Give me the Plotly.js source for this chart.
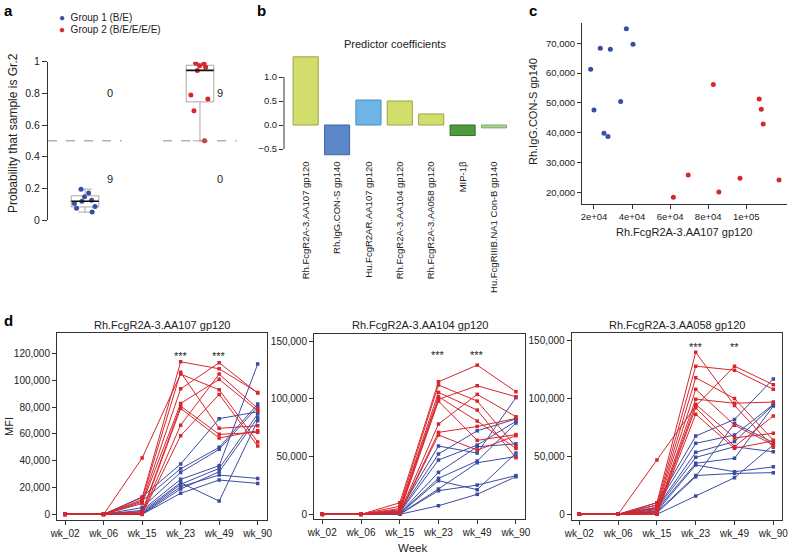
<!DOCTYPE html>
<html><head><meta charset="utf-8">
<script src="https://cdn.plot.ly/plotly-3.0.1.min.js"></script>
<style>html,body{margin:0;padding:0;background:#fff}#chart{width:788px;height:556px}</style>
</head><body><div id="chart"></div>
<script>
const W=788, H=556;
const px=x=>x/W, py=y=>1-y/H;
const FONT='Arial, "Liberation Sans", sans-serif';
const INK='#222';
const BLUE='#3b4ca3', RED='#d8262d';

// ---------- a: probability of Gr.2 ----------
const groupNames=['Group 1 (B/E)','Group 2 (B/E/E/E/E)'];
const probG1=[0.195,0.17,0.147,0.125,0.118,0.105,0.085,0.075,0.05];
const probG2=[0.99,0.985,0.975,0.965,0.945,0.79,0.765,0.69,0.5];
const countsG1=['0','9'];   // above / below 0.5
const countsG2=['9','0'];

// ---------- b: predictor coefficients ----------
const coefNames=['Rh.FcgR2A-3.AA107 gp120','Rh.IgG.CON-S gp140','Hu.FcgR2AR.AA107 gp120',
  'Rh.FcgR2A-3.AA104 gp120','Rh.FcgR2A-3.AA058 gp120','MIP-1β','Hu.FcgRIIIB.NA1 Con-B gp140'];
const coefValues=[1.42,-0.62,0.52,0.50,0.23,-0.22,-0.06];
const coefColors=['#d2dd6c','#5b87c9','#6cb5e6','#d2dd6c','#d2dd6c','#4f9a3f','#a9d38e'];
const coefEdges=['#9aa640','#3d65a6','#4a8fc0','#9aa640','#9aa640','#356f2a','#7fab66'];

// ---------- c: scatter ----------
const g1AA107=[18250,20000,23300,28600,25250,27350,34000,37000,40500];
const g1CONS=[61300,47600,68300,68000,39800,38700,50500,74900,69700];
const g2AA107=[61700,69500,82700,85600,96700,106800,107900,108900,117200];
const g2CONS=[18300,25800,56200,20100,24700,51300,47850,42900,24100];

// ---------- d: MFI over time ----------
const weeks=['wk_02','wk_06','wk_15','wk_23','wk_49','wk_90'];
const aa107G1=[
  [0,0,13000,37500,71400,76600],[0,0,10000,34000,50000,82300],[0,0,5000,31300,48500,80300],
  [0,0,3000,26100,36300,112200],[0,0,2000,23600,9900,69900],[0,0,1000,22400,34300,74900],
  [0,0,500,20600,29300,26800],[0,0,0,18900,31800,72100],[0,0,0,15700,25600,23100]];
const aa107G2=[
  [0,0,42000,104700,93000,54000],[0,0,12500,113900,108700,91000],[0,0,11000,106000,64200,66100],
  [0,0,9000,93700,113200,90500],[0,0,8000,82800,100800,77300],[0,0,2000,80800,59700,61200],
  [0,0,1000,79100,57000,62400],[0,0,500,66600,104700,79100],[0,0,0,58700,89500,51000]];
const aa104G1=[
  [0,0,3000,59100,53000,101000],[0,0,2000,52200,72300,82500],[0,0,1500,47000,59900,80500],
  [0,0,1000,36300,58500,61000],[0,0,800,31100,46100,79000],[0,0,500,29100,21300,53000],
  [0,0,300,21900,44600,50000],[0,0,0,20400,25300,33500],[0,0,0,7400,17300,32500]];
const aa104G2=[
  [0,0,10000,114700,129100,106100],[0,0,7000,111900,98000,58500],[0,0,5000,105500,90200,49000],
  [0,0,4000,101800,80700,57000],[0,0,3000,99500,111300,101700],[0,0,2000,98000,64000,69000],
  [0,0,1500,78100,103800,84500],[0,0,1000,70900,76000,83000],[0,0,500,68600,55600,68000]];
const aa058G1=[
  [0,0,10000,67600,82000,117000],[0,0,8000,61300,68500,95000],[0,0,6000,53600,62800,94500],
  [0,0,5000,49200,58400,54000],[0,0,4000,44100,48400,93500],[0,0,2500,42600,36800,41000],
  [0,0,2000,33500,35300,36000],[0,0,1000,32500,78500,62000],[0,0,0,15800,31600,60000]];
const aa058G2=[
  [0,0,47000,93500,128000,112000],[0,0,10000,140000,94000,58000],[0,0,8000,128000,124500,108000],
  [0,0,6000,118000,100000,64000],[0,0,5000,108000,77000,60000],[0,0,3000,99500,96000,97000],
  [0,0,2000,95000,66000,70000],[0,0,1000,92000,58500,85000],[0,0,0,86500,57000,63400]];
const dTitles=['Rh.FcgR2A-3.AA107 gp120','Rh.FcgR2A-3.AA104 gp120','Rh.FcgR2A-3.AA058 gp120'];
const dStars=[['***','***'],['***','***'],['***','**']];
const dStarY=[120150,140700,147000];

const traces=[];
const shapes=[];
const ann=[];

// ---------- a ----------
const boxPos=[1,2], boxW=0.24;
[[probG1,BLUE],[probG2,RED]].forEach(([vals,col],i)=>{
  traces.push({type:'box',x0:boxPos[i],y:vals,xaxis:'x',yaxis:'y',width:boxW,
    boxpoints:'all',jitter:1,pointpos:0,whiskerwidth:0.5,
    line:{color:'#a8a8a8',width:1},fillcolor:'rgba(255,255,255,1)',
    marker:{color:col,size:5},showlegend:false,hoverinfo:'y'});
  const s=[...vals].sort((a,b)=>a-b);
  const med=s[Math.floor(s.length/2)];
  shapes.push({type:'line',xref:'x',yref:'y',x0:boxPos[i]-boxW/2,x1:boxPos[i]+boxW/2,y0:med,y1:med,
    line:{color:'#111',width:1.6}});
});
shapes.push({type:'line',xref:'x',yref:'y',x0:0.678,x1:boxPos[0]+0.32,y0:0.5,y1:0.5,line:{color:'#888',width:1,dash:'dash'}});
shapes.push({type:'line',xref:'x',yref:'y',x0:boxPos[1]-0.32,x1:boxPos[1]+0.32,y0:0.5,y1:0.5,line:{color:'#888',width:1,dash:'dash'}});
[[countsG1,1.22],[countsG2,2.17]].forEach(([c,xx])=>{
  ann.push({xref:'x',yref:'y',x:xx,y:0.8,text:c[0],showarrow:false,font:{size:11,color:INK}});
  ann.push({xref:'x',yref:'y',x:xx,y:0.26,text:c[1],showarrow:false,font:{size:11,color:INK}});
});
[[BLUE,17],[RED,29]].forEach(([col,yy],i)=>{
  ann.push({xref:'paper',yref:'paper',x:px(57),y:py(yy),xanchor:'left',yanchor:'middle',showarrow:false,
    text:'<span style="color:'+col+'">●</span>  '+groupNames[i],font:{size:10,color:INK}});
});
ann.push({xref:'paper',yref:'paper',x:px(13),y:py(133),textangle:-90,showarrow:false,
  text:'Probability that sample is Gr.2',font:{size:12,color:INK}});

// ---------- b ----------
traces.push({type:'bar',x:coefNames,y:coefValues,xaxis:'x2',yaxis:'y2',
  marker:{color:coefColors,line:{color:coefEdges,width:1}},showlegend:false});
shapes.push({type:'line',xref:'paper',yref:'y2',x0:px(284),x1:px(284),y0:-0.5,y1:1.0,line:{color:'#333',width:1}});
ann.push({xref:'paper',yref:'paper',x:px(395),y:py(44),text:'Predictor coefficients',showarrow:false,font:{size:11,color:INK}});

// ---------- c ----------
traces.push({type:'scatter',mode:'markers',x:g1AA107,y:g1CONS,xaxis:'x3',yaxis:'y3',marker:{color:BLUE,size:5},showlegend:false});
traces.push({type:'scatter',mode:'markers',x:g2AA107,y:g2CONS,xaxis:'x3',yaxis:'y3',marker:{color:RED,size:5},showlegend:false});
ann.push({xref:'paper',yref:'paper',x:px(684),y:py(232),text:'Rh.FcgR2A-3.AA107 gp120',showarrow:false,font:{size:11,color:INK}});
ann.push({xref:'paper',yref:'paper',x:px(533),y:py(112),textangle:-90,text:'Rh.IgG.CON-S gp140',showarrow:false,font:{size:11,color:INK}});

// ---------- d ----------
const dSets=[[aa107G1,aa107G2],[aa104G1,aa104G2],[aa058G1,aa058G2]];
dSets.forEach(([g1,g2],k)=>{
  const xa='x'+(k+4), ya='y'+(k+4);
  [[g1,BLUE],[g2,RED]].forEach(([rows,col])=>{
    rows.forEach(r=>traces.push({type:'scatter',mode:'lines+markers',x:weeks,y:r,xaxis:xa,yaxis:ya,
      line:{color:col,width:1},marker:{color:col,size:3.5,symbol:'square'},showlegend:false}));
  });
  dStars[k].forEach((s,j)=>ann.push({xref:xa,yref:ya,x:3+j,y:dStarY[k],yshift:-3,text:s,showarrow:false,font:{size:11,color:INK}}));
});
const dCenters=[161.8,419.5,677];
dTitles.forEach((t,k)=>ann.push({xref:'paper',yref:'paper',x:px(dCenters[k]),y:py(325),text:t,showarrow:false,font:{size:11,color:INK}}));
ann.push({xref:'paper',yref:'paper',x:px(412),y:py(548),text:'Week',showarrow:false,font:{size:11.5,color:INK}});
ann.push({xref:'paper',yref:'paper',x:px(9),y:py(427),textangle:-90,text:'MFI',showarrow:false,font:{size:11,color:INK}});

// panel letters
[['a',2,10],['b',255,10],['c',527,10],['d',2,320]].forEach(([l,xx,yy])=>
  ann.push({xref:'paper',yref:'paper',x:px(xx),y:py(yy),xanchor:'left',yanchor:'middle',text:'<b>'+l+'</b>',showarrow:false,font:{size:15,color:'#000'}}));

// paper-anchored annotations default to 'auto' anchoring; pin them
ann.forEach(a=>{a.xanchor=a.xanchor||'center'; a.yanchor=a.yanchor||'middle';});

const baseAx={showgrid:false,zeroline:false,ticks:'outside',ticklen:4,tickcolor:'#333',linecolor:'#333',linewidth:1,
  tickfont:{size:10,color:INK},fixedrange:true};
const dY=(dom,rng,dt)=>Object.assign({},baseAx,{domain:dom,range:rng,dtick:dt,tick0:0,tickformat:',d',showline:true,mirror:true});
const dX=(dom,rng,anchor)=>Object.assign({},baseAx,{domain:dom,range:rng,type:'category',categoryorder:'array',categoryarray:weeks,showline:true,mirror:true,anchor:anchor});

const layout={
  width:W,height:H,margin:{l:0,r:0,t:0,b:0},paper_bgcolor:'#fff',plot_bgcolor:'rgba(0,0,0,0)',
  font:{family:FONT,color:INK},showlegend:false,
  xaxis:Object.assign({},baseAx,{domain:[px(48),px(240)],range:[0.678,2.348],visible:false,anchor:'y'}),
  yaxis:Object.assign({},baseAx,{domain:[py(220),py(61.7)],range:[0,1],dtick:0.2,showline:true,ticklen:5,anchor:'x',tickfont:{size:10.5,color:INK}}),
  xaxis2:Object.assign({},baseAx,{domain:[px(284),px(509.7)],range:[-0.69,6.5],ticks:'',showline:false,tickangle:-90,
    tickfont:{size:9.5,color:INK},anchor:'y2'}),
  yaxis2:Object.assign({},baseAx,{domain:[py(158.6),py(53)],range:[-0.7,1.5],tickvals:[-0.5,0,0.5,1],tickformat:'.1f',showline:false,anchor:'x2',tickfont:{size:9.5,color:INK}}),
  xaxis3:Object.assign({},baseAx,{domain:[px(582),px(787)],range:[13700,121400],tickvals:[20000,40000,60000,80000,100000],
    ticktext:['2e+04','4e+04','6e+04','8e+04','1e+05'],showline:true,anchor:'y3',tickfont:{size:9.5,color:INK}}),
  yaxis3:Object.assign({},baseAx,{domain:[py(204),py(23)],range:[16070,76800],dtick:10000,tick0:0,tickformat:',d',showline:true,anchor:'x3',tickfont:{size:9.5,color:INK}}),
  xaxis4:dX([px(57),px(266.7)],[-0.21,5.234],'y4'),
  yaxis4:dY([py(520),py(333)],[-4250,135400],20000),
  xaxis5:dX([px(314),px(525)],[-0.214,5.234],'y5'),
  yaxis5:dY([py(519),py(334)],[-4066,156055],50000),
  xaxis6:dX([px(571.7),px(782.4)],[-0.196,5.234],'y6'),
  yaxis6:dY([py(520),py(333)],[-4925,156650],50000),
  shapes:shapes,annotations:ann
};
layout.yaxis4.anchor='x4'; layout.yaxis5.anchor='x5'; layout.yaxis6.anchor='x6';

Plotly.newPlot('chart',traces,layout,{staticPlot:true,displayModeBar:false});
</script></body></html>
